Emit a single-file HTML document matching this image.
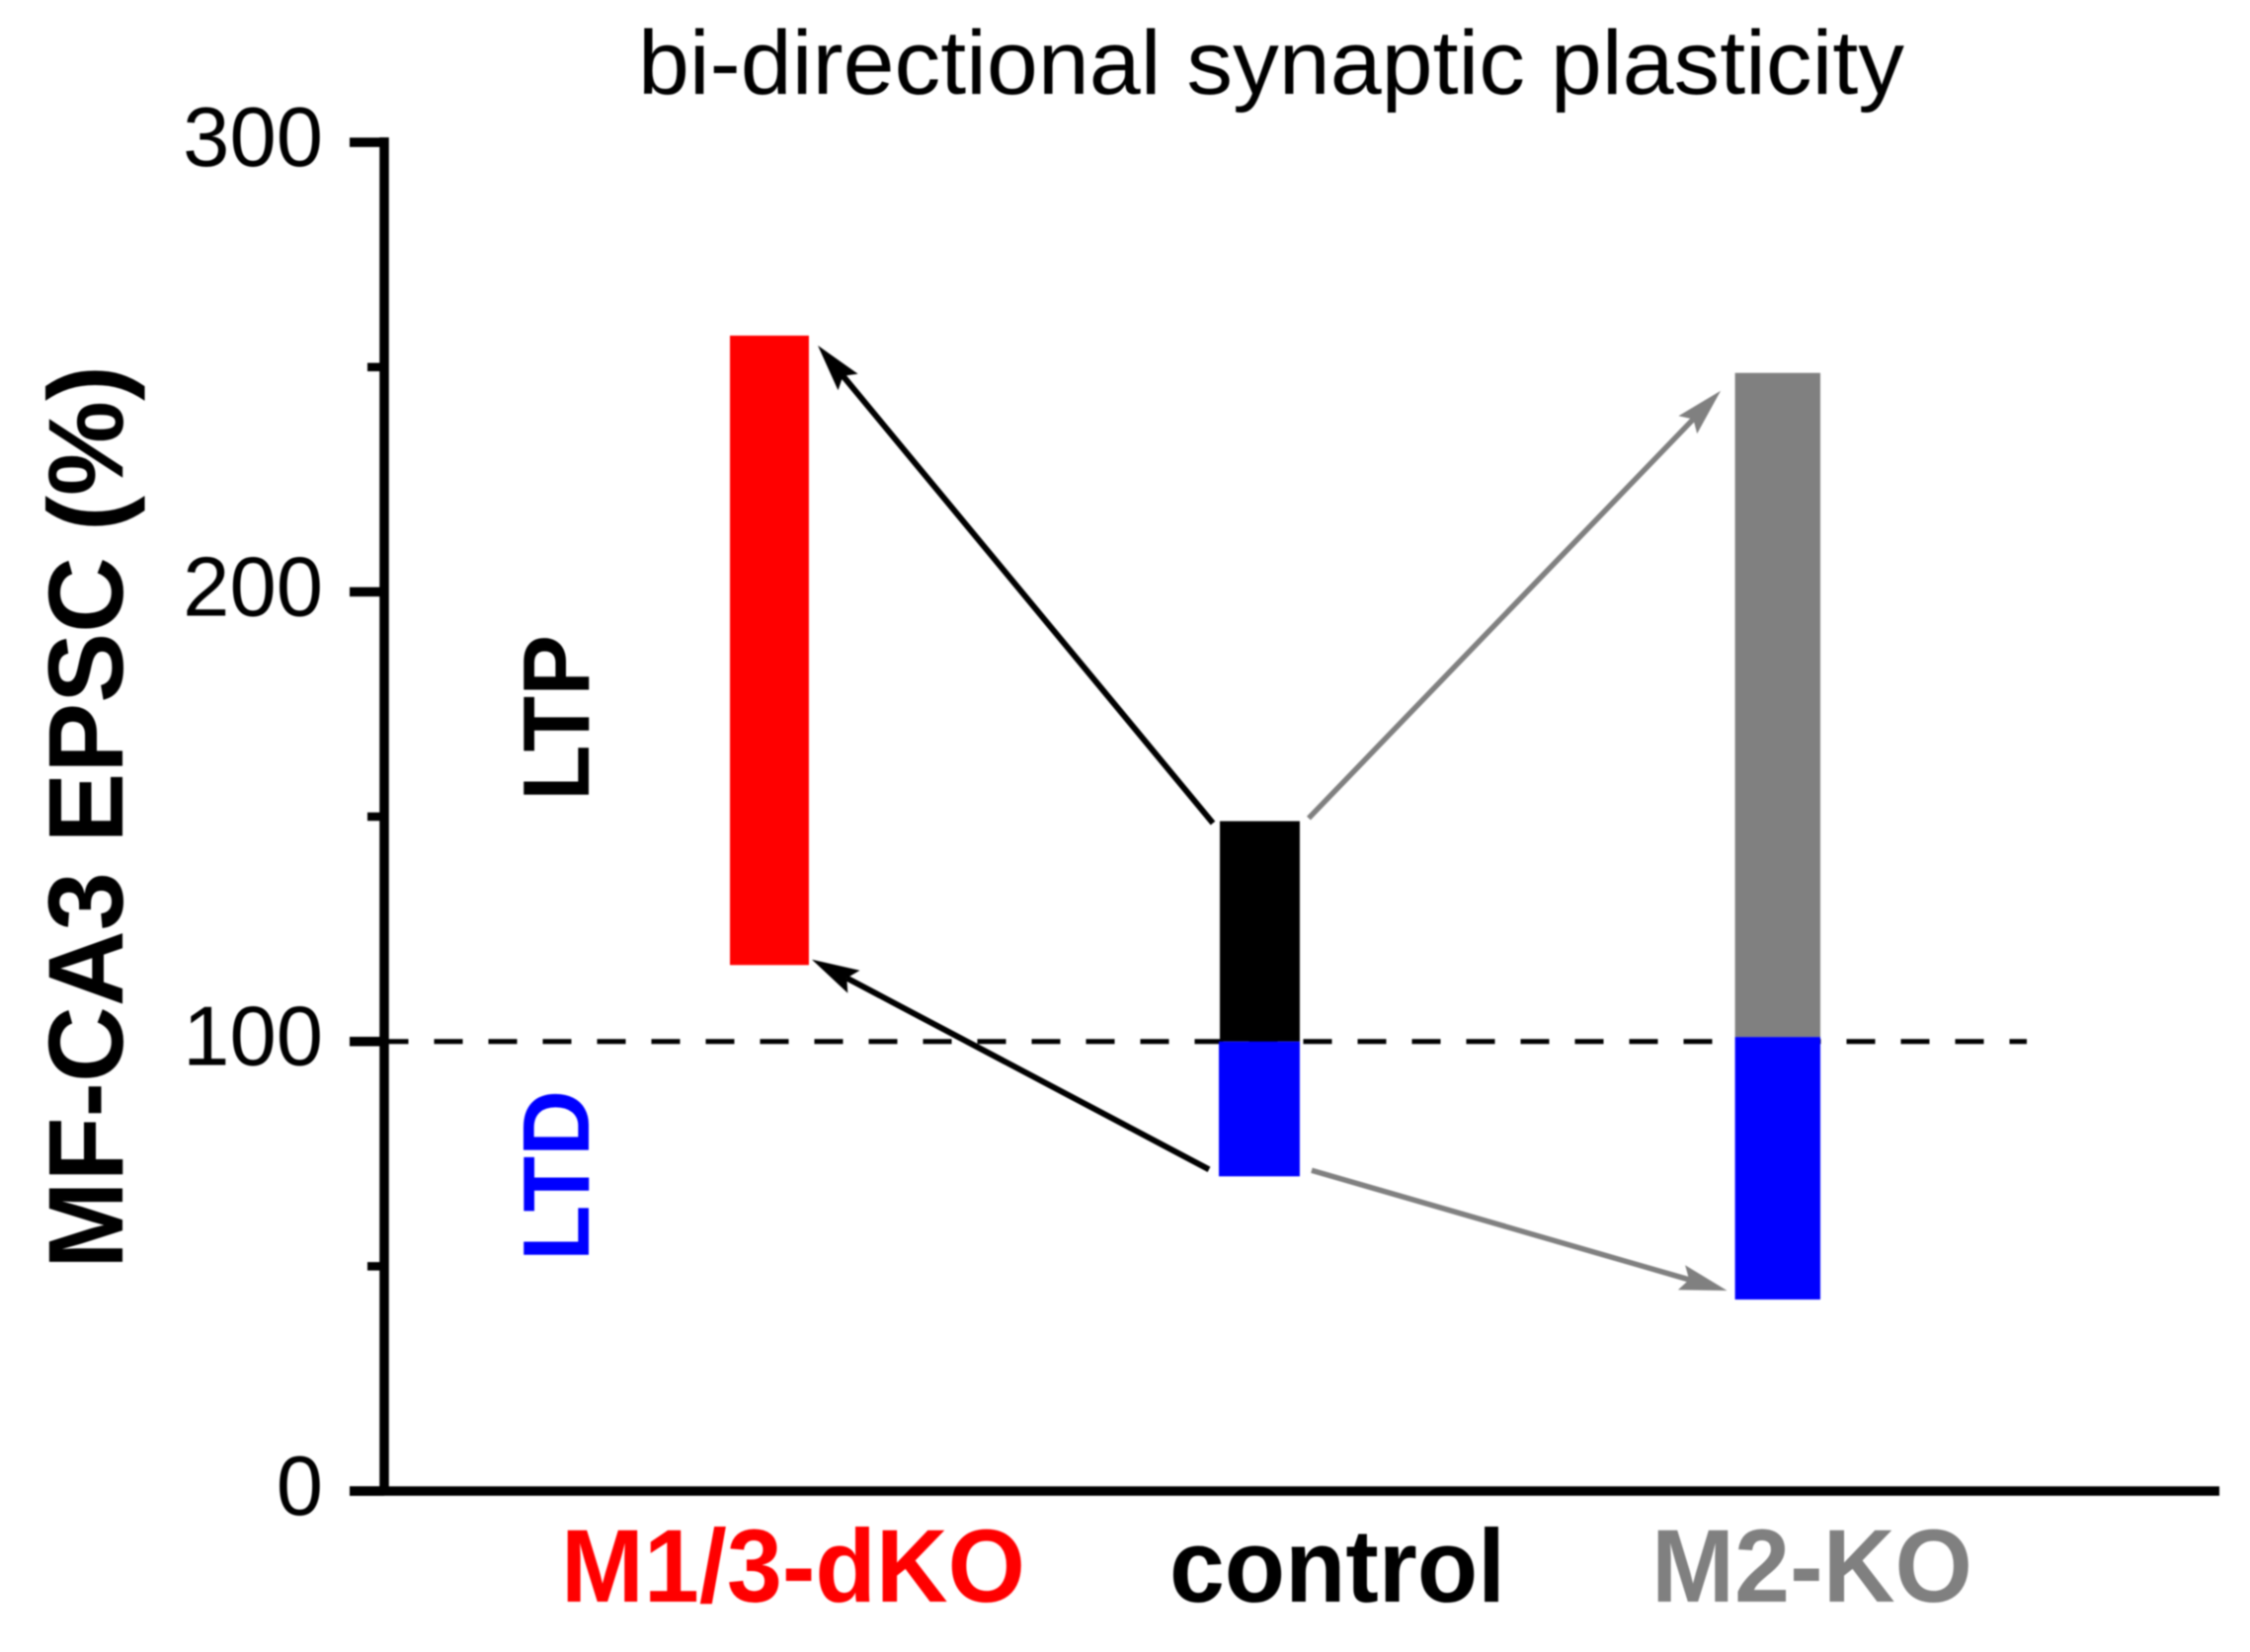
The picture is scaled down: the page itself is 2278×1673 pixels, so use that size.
<!DOCTYPE html>
<html lang="en">
<head>
<meta charset="utf-8">
<title>bi-directional synaptic plasticity</title>
<style>
  html, body { margin: 0; padding: 0; background: #ffffff; }
  svg { display: block; font-family: "Liberation Sans", Arial, sans-serif; filter: blur(0.7px); }
</style>
</head>
<body>
<svg id="chart" xmlns="http://www.w3.org/2000/svg" width="2278" height="1673" viewBox="0 0 2278 1673">
  <rect x="0" y="0" width="2278" height="1673" fill="#ffffff"/>
  <g id="plot"></g>
  <text x="646" y="95" font-size="92" textLength="1282" lengthAdjust="spacingAndGlyphs" fill="#000000">bi-directional synaptic plasticity</text>
  <text transform="translate(124,1285) rotate(-90)" font-size="108" font-weight="700" textLength="721" lengthAdjust="spacingAndGlyphs" fill="#000000">MF-CA3 EPSC</text>
  <text transform="translate(124,538) rotate(-90)" font-size="108" font-weight="700" textLength="168" lengthAdjust="spacingAndGlyphs" fill="#000000">(%)</text>
  <text transform="translate(596,811) rotate(-90)" font-size="96" font-weight="700" textLength="168" lengthAdjust="spacingAndGlyphs" fill="#000000">LTP</text>
  <text transform="translate(596,1277) rotate(-90)" font-size="96" font-weight="700" textLength="173" lengthAdjust="spacingAndGlyphs" fill="#0000ff">LTD</text>
</svg>
<script>
const categories = ['M1/3-dKO', 'control', 'M2-KO'];
const categoryUnits = [1, 2, 3.056];
const barWidthUnits = [0.161, 0.163, 0.174];
const ltpTop = [257, 149, 248.7];
const ltpBase = [117, 100, 101];
const ltdTop = [null, 100, 101];
const ltdBottom = [null, 70, 42.6];
const yMajorTicks = [0, 100, 200, 300];
const yMinorTicks = [50, 150, 250];
const yTickLabels = ['0', '100', '200', '300'];
const baselineValue = [100];
const arrowSourceGroup = [1, 1, 1, 1];
const arrowSourceValue = [149, 70, 149, 70];
const arrowTargetGroup = [0, 0, 2, 2];
const arrowTargetValue = [257, 117, 248.7, 42.6];

const NS = 'http://www.w3.org/2000/svg';
const plot = document.getElementById('plot');
const yScale = v => 1510 - v * 4.553;
const xScale = u => 779 + (u - 1) * 496.5;

function make(tag, attrs) {
  const el = document.createElementNS(NS, tag);
  for (const k in attrs) el.setAttribute(k, attrs[k]);
  plot.appendChild(el);
  return el;
}

const barColors = ['#ff0000', '#000000', '#808080'];
const labelColors = ['#ff0000', '#000000', '#808080'];
const labelLeft = [568, 1184, 1672];
const labelWidth = [470, 340, 325];
const axisLeft = 389;

/* baseline dashes sit behind the bars */
baselineValue.forEach(v => {
  const el = make('line', { x1: 384.5, x2: 2052, y1: yScale(v), y2: yScale(v), stroke: '#000000', 'stroke-width': 5, 'stroke-dasharray': '29 26' });
  
  
});

/* bars */
categories.forEach((c, i) => {
  const cx = xScale(categoryUnits[i]);
  const w = barWidthUnits[i] * 496.5;
  const top = make('rect', { x: cx - w / 2, width: w, y: yScale(ltpTop[i]), height: yScale(ltpBase[i]) - yScale(ltpTop[i]), fill: barColors[i] });
  
  
  if (ltdBottom[i] !== null) {
    const bottom = make('rect', { x: cx - w / 2 - (i === 1 ? 1 : 0), width: w + (i === 1 ? 1 : 0), y: yScale(ltdTop[i]), height: yScale(ltdBottom[i]) - yScale(ltdTop[i]), fill: '#0000ff' });
    
    
  }
});

/* arrows: each runs from a source bar corner to a target bar corner */
const arrowColors = ['#000000', '#000000', '#808080', '#808080'];
const arrowNames = ['arrow-control-ltp-to-m1-3', 'arrow-control-ltd-to-m1-3', 'arrow-control-ltp-to-m2', 'arrow-control-ltd-to-m2'];
const arrowStroke = [6, 6, 5.5, 5.5];
const sourceGap = [[-7, 2], [-11, -7], [9, -3], [12, -6]];
const targetGap = [[9, 10], [3, -5.5], [-14.5, 18], [-8, -9]];
arrowSourceGroup.forEach((sg, i) => {
  const tg = arrowTargetGroup[i];
  const dir = categoryUnits[tg] < categoryUnits[sg] ? -1 : 1;
  const sx = xScale(categoryUnits[sg]) + dir * barWidthUnits[sg] * 496.5 / 2 + sourceGap[i][0];
  const sy = yScale(arrowSourceValue[i]) + sourceGap[i][1];
  const tx = xScale(categoryUnits[tg]) - dir * barWidthUnits[tg] * 496.5 / 2 + targetGap[i][0];
  const ty = yScale(arrowTargetValue[i]) + targetGap[i][1];
  const len = Math.hypot(tx - sx, ty - sy);
  const ux = (sx - tx) / len, uy = (sy - ty) / len;
  const px = -uy, py = ux;
  const nx = tx + ux * 40, ny = ty + uy * 40;
  const wing = 48, half = 13;
  const line = make('line', { x1: sx, y1: sy, x2: nx, y2: ny, stroke: arrowColors[i], 'stroke-width': arrowStroke[i] });
  
  
  const pts = [
    [tx, ty],
    [tx + ux * wing + px * half, ty + uy * wing + py * half],
    [nx, ny],
    [tx + ux * wing - px * half, ty + uy * wing - py * half]
  ].map(p => p[0].toFixed(1) + ',' + p[1].toFixed(1)).join(' ');
  const head = make('polygon', { points: pts, fill: arrowColors[i] });
  
  
});

/* axes */
const yAxis = make('line', { x1: axisLeft, x2: axisLeft, y1: yScale(300) - 5, y2: yScale(0) + 4.5, stroke: '#000000', 'stroke-width': 9.5 });


const xAxis = make('line', { x1: 354, x2: 2247, y1: yScale(0), y2: yScale(0), stroke: '#000000', 'stroke-width': 9.5 });



yMajorTicks.forEach((v, i) => {
  const tick = make('line', { x1: 354, x2: axisLeft, y1: yScale(v), y2: yScale(v), stroke: '#000000', 'stroke-width': 9.5 });
  
  
  const label = make('text', { x: 327, y: yScale(v) + 24, 'text-anchor': 'end', 'font-size': 85, fill: '#000000' });
  label.textContent = yTickLabels[i];
  
  
});
yMinorTicks.forEach(v => {
  const tick = make('line', { x1: 372, x2: axisLeft, y1: yScale(v), y2: yScale(v), stroke: '#000000', 'stroke-width': 8.5 });
  
  
});

/* category labels */
categories.forEach((c, i) => {
  const t = make('text', { x: labelLeft[i], y: 1622, 'font-size': 105, 'font-weight': 700, fill: labelColors[i], textLength: labelWidth[i], lengthAdjust: 'spacingAndGlyphs' });
  t.textContent = c;
  
  
});
</script>
</body>
</html>
